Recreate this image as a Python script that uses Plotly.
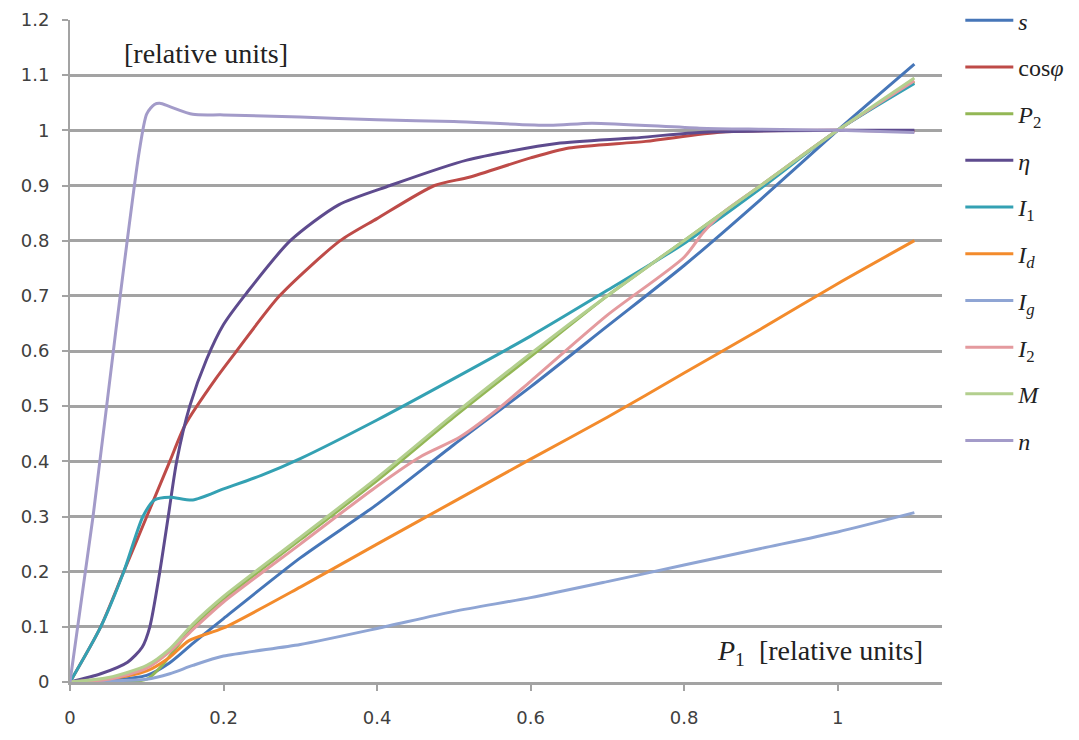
import plotly.graph_objects as go

# ---- data ----
s_x = [0, 0.05, 0.1, 0.13, 0.16, 0.2, 0.3, 0.4, 0.5, 0.6, 0.7, 0.8, 0.9, 1.0, 1.1]
s_y = [0, 0.003, 0.012, 0.035, 0.07, 0.115, 0.225, 0.322, 0.43, 0.535, 0.645, 0.755, 0.875, 1.0, 1.12]

cos_x = [0, 0.04, 0.07, 0.1, 0.13, 0.15, 0.19, 0.217, 0.273, 0.352, 0.4, 0.475, 0.52, 0.6, 0.65, 0.75, 0.85, 1.0, 1.1]
cos_y = [0, 0.1, 0.2, 0.3, 0.4, 0.466, 0.55, 0.6, 0.7, 0.8, 0.84, 0.9, 0.915, 0.95, 0.968, 0.98, 0.997, 1.0, 0.998]

p2_x = [0, 0.05, 0.1, 0.12, 0.14, 0.16, 0.2, 0.3, 0.4, 0.5, 0.6, 0.7, 0.8, 0.9, 1.0, 1.1]
p2_y = [0, 0.0, 0.005, 0.03, 0.065, 0.1, 0.15, 0.258, 0.365, 0.48, 0.59, 0.70, 0.80, 0.90, 1.0, 1.088]

eta_x = [0, 0.04, 0.075, 0.094, 0.104, 0.117, 0.128, 0.139, 0.156, 0.178, 0.2, 0.23, 0.287, 0.35, 0.417, 0.517, 0.634, 0.734, 0.82, 1.0, 1.1]
eta_y = [0, 0.015, 0.036, 0.063, 0.1, 0.2, 0.3, 0.4, 0.5, 0.585, 0.648, 0.705, 0.8, 0.865, 0.9, 0.946, 0.976, 0.986, 0.996, 1.0, 1.0]

i1_x = [0, 0.04, 0.07, 0.095, 0.11, 0.13, 0.16, 0.2, 0.25, 0.3, 0.4, 0.5, 0.6, 0.7, 0.8, 0.9, 1.0, 1.1]
i1_y = [0, 0.1, 0.2, 0.3, 0.33, 0.335, 0.33, 0.35, 0.375, 0.405, 0.475, 0.55, 0.627, 0.71, 0.795, 0.895, 1.0, 1.085]

id_x = [0, 0.05, 0.1, 0.13, 0.155, 0.2, 0.3, 0.4, 0.5, 0.6, 0.7, 0.8, 0.9, 1.0, 1.1]
id_y = [0, 0.005, 0.02, 0.045, 0.075, 0.098, 0.172, 0.25, 0.327, 0.404, 0.48, 0.56, 0.64, 0.722, 0.80]

ig_x = [0, 0.05, 0.1, 0.13, 0.16, 0.2, 0.3, 0.4, 0.5, 0.6, 0.7, 0.8, 0.9, 1.0, 1.1]
ig_y = [0, 0.002, 0.005, 0.015, 0.03, 0.047, 0.068, 0.097, 0.128, 0.153, 0.182, 0.212, 0.242, 0.272, 0.307]

i2_x = [0, 0.05, 0.1, 0.13, 0.16, 0.2, 0.3, 0.4, 0.456, 0.508, 0.556, 0.6, 0.7, 0.8, 0.825, 0.85, 0.9, 1.0, 1.1]
i2_y = [0, 0.005, 0.025, 0.055, 0.095, 0.145, 0.25, 0.355, 0.408, 0.444, 0.493, 0.545, 0.665, 0.77, 0.815, 0.85, 0.9, 1.0, 1.09]

m_x = [0, 0.05, 0.1, 0.13, 0.16, 0.2, 0.3, 0.4, 0.5, 0.6, 0.7, 0.8, 0.9, 1.0, 1.1]
m_y = [0, 0.008, 0.03, 0.06, 0.105, 0.155, 0.262, 0.37, 0.485, 0.595, 0.70, 0.80, 0.90, 1.0, 1.095]

n_x = [0, 0.03, 0.06, 0.09, 0.1, 0.11, 0.117, 0.13, 0.16, 0.2, 0.3, 0.4, 0.5, 0.625, 0.68, 0.82, 0.9, 1.0, 1.1]
n_y = [0, 0.30, 0.64, 0.96, 1.03, 1.047, 1.049, 1.043, 1.029, 1.028, 1.024, 1.019, 1.016, 1.009, 1.013, 1.004, 1.002, 1.0, 0.996]

names = ["<i>s</i>", "cos<i>φ</i>", "<i>P</i><sub>2</sub>", "<i>η</i>", "<i>I</i><sub>1</sub>",
         "<i>I<sub>d</sub></i>", "<i>I<sub>g</sub></i>", "<i>I</i><sub>2</sub>", "<i>M</i>", "<i>n</i>"]
xs = [s_x, cos_x, p2_x, eta_x, i1_x, id_x, ig_x, i2_x, m_x, n_x]
ys = [s_y, cos_y, p2_y, eta_y, i1_y, id_y, ig_y, i2_y, m_y, n_y]
colors = ["#4676B8", "#BE4B48", "#93B755", "#5E4B8E", "#34A1B3",
          "#F38B2C", "#8FA5D4", "#E49A9E", "#B3CF8E", "#A39BC9"]

x_ticks = [0, 0.2, 0.4, 0.6, 0.8, 1.0]
x_labels = ["0", "0.2", "0.4", "0.6", "0.8", "1"]
y_ticks = [0, 0.1, 0.2, 0.3, 0.4, 0.5, 0.6, 0.7, 0.8, 0.9, 1.0, 1.1, 1.2]
y_labels = ["0", "0.1", "0.2", "0.3", "0.4", "0.5", "0.6", "0.7", "0.8", "0.9", "1", "1.1", "1.2"]

fig = go.Figure()
for i, (nm, x, y, c) in enumerate(zip(names, xs, ys, colors)):
    fig.add_trace(go.Scatter(
        x=x, y=y, mode="lines", name=nm, legendgroup=f"g{i}",
        line=dict(color=c, width=3, shape="spline", smoothing=0.7),
    ))

grid_col = "#A3A3A3"
fig.update_layout(
    width=1071, height=732,
    margin=dict(l=62, r=137, t=12, b=58, autoexpand=False),
    paper_bgcolor="white", plot_bgcolor="white",
    showlegend=True,
    legend=dict(
        x=1.021, y=1.033, xanchor="left", yanchor="top",
        font=dict(family="Liberation Serif", size=24, color="#222222"),
        tracegroupgap=12.5, traceorder="grouped",
        bgcolor="rgba(0,0,0,0)", itemwidth=48, maxheight=800,
    ),
    xaxis=dict(
        range=[0, 1.136], tickvals=x_ticks, ticktext=x_labels,
        showgrid=False, zeroline=False, automargin=False,
        showline=True, linecolor=grid_col, linewidth=2.5,
        ticks="outside", ticklen=6, tickwidth=1.5, tickcolor=grid_col,
        ticklabelstandoff=12,
        tickfont=dict(family="DejaVu Sans", size=18, color="#404040"),
    ),
    yaxis=dict(
        range=[0, 1.2], tickvals=y_ticks, ticktext=y_labels,
        showgrid=True, gridcolor=grid_col, gridwidth=2.5,
        zeroline=False, automargin=False,
        showline=True, linecolor=grid_col, linewidth=2,
        ticks="outside", ticklen=6, tickwidth=1.5, tickcolor=grid_col,
        ticklabelstandoff=9,
        tickfont=dict(family="DejaVu Sans", size=18, color="#404040"),
    ),
    annotations=[
        dict(text="[relative units]", xref="paper", yref="paper",
             x=0.06, y=0.95, xanchor="left", yanchor="middle", showarrow=False,
             font=dict(family="Liberation Serif", size=28, color="#222222")),
        dict(text="<i>P</i><sub>1</sub>  [relative units]", xref="paper", yref="paper",
             x=0.98, y=0.045, xanchor="right", yanchor="middle", showarrow=False,
             font=dict(family="Liberation Serif", size=28, color="#222222")),
    ],
)

fig.write_html("out.html")
